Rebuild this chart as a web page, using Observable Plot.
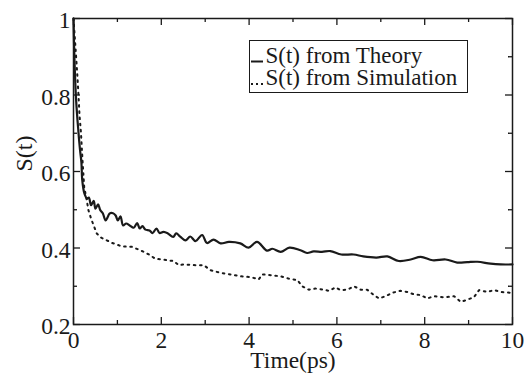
<!DOCTYPE html>
<html>
<head>
<meta charset="utf-8">
<script src="https://cdn.jsdelivr.net/npm/d3@7"></script>
<script src="https://cdn.jsdelivr.net/npm/@observablehq/plot@0.6"></script>
<style>
  html, body { margin: 0; padding: 0; background: #fff; }
  #chart { position: relative; width: 525px; height: 373px; }
</style>
</head>
<body>
<div id="chart"></div>
<script>
// ---- data ----
const theory = [
  [0, 1], [0.02, 0.90], [0.06, 0.786], [0.11, 0.707], [0.15, 0.655], [0.18, 0.624], [0.20, 0.577],
  [0.25, 0.542], [0.31, 0.529], [0.35, 0.532], [0.40, 0.512], [0.46, 0.523], [0.50, 0.503],
  [0.56, 0.514], [0.61, 0.499], [0.67, 0.49], [0.73, 0.472], [0.78, 0.481], [0.82, 0.49],
  [0.90, 0.491], [0.96, 0.485], [1.01, 0.472], [1.07, 0.483], [1.13, 0.459], [1.20, 0.464],
  [1.28, 0.459], [1.37, 0.453], [1.45, 0.465], [1.51, 0.451], [1.57, 0.457], [1.64, 0.448],
  [1.73, 0.446], [1.80, 0.439], [1.89, 0.451], [1.96, 0.439], [2.05, 0.442], [2.15, 0.438],
  [2.27, 0.429], [2.34, 0.438], [2.43, 0.43], [2.55, 0.42], [2.66, 0.43], [2.78, 0.418],
  [2.93, 0.434], [3.04, 0.413], [3.19, 0.422], [3.35, 0.412], [3.54, 0.416], [3.80, 0.412],
  [3.99, 0.401], [4.18, 0.416], [4.41, 0.393], [4.53, 0.398], [4.72, 0.39], [4.92, 0.401],
  [5.17, 0.394], [5.32, 0.387], [5.47, 0.391], [5.66, 0.39], [5.85, 0.392], [6.10, 0.383],
  [6.38, 0.383], [6.60, 0.378], [6.90, 0.375], [7.15, 0.378], [7.41, 0.366], [7.68, 0.37],
  [7.91, 0.377], [8.18, 0.368], [8.48, 0.37], [8.74, 0.362], [8.97, 0.363], [9.20, 0.364],
  [9.50, 0.359], [9.73, 0.357], [10, 0.357]
];
const simulation = [
  [0, 1], [0.06, 0.899], [0.09, 0.847], [0.114, 0.799], [0.137, 0.747], [0.169, 0.703],
  [0.19, 0.66], [0.21, 0.62], [0.244, 0.559], [0.29, 0.533], [0.34, 0.499], [0.40, 0.477],
  [0.46, 0.459], [0.53, 0.438], [0.63, 0.427], [0.76, 0.42], [0.88, 0.413], [0.99, 0.409],
  [1.10, 0.404], [1.33, 0.403], [1.48, 0.396], [1.60, 0.39], [1.75, 0.381], [1.86, 0.372],
  [2.02, 0.37], [2.13, 0.368], [2.28, 0.366], [2.40, 0.355], [2.51, 0.357], [2.78, 0.355],
  [2.97, 0.355], [3.12, 0.342], [3.35, 0.335], [3.57, 0.331], [3.80, 0.326], [4.03, 0.324],
  [4.22, 0.318], [4.30, 0.331], [4.49, 0.329], [4.72, 0.326], [4.90, 0.32], [5.10, 0.316],
  [5.21, 0.30], [5.36, 0.291], [5.51, 0.294], [5.70, 0.291], [5.82, 0.288], [5.97, 0.297],
  [6.08, 0.29], [6.24, 0.291], [6.39, 0.30], [6.54, 0.291], [6.69, 0.291], [6.84, 0.277],
  [6.96, 0.268], [7.11, 0.274], [7.26, 0.283], [7.45, 0.288], [7.60, 0.285], [7.75, 0.279],
  [7.91, 0.277], [8.06, 0.268], [8.21, 0.274], [8.44, 0.271], [8.67, 0.274], [8.82, 0.259],
  [8.97, 0.265], [9.12, 0.271], [9.24, 0.29], [9.43, 0.285], [9.58, 0.29], [9.73, 0.285],
  [9.96, 0.283], [10, 0.282]
];
const xMajor = [0, 2, 4, 6, 8, 10];
const xMinor = [1, 3, 5, 7, 9];
const yMajor = [0.2, 0.4, 0.6, 0.8, 1];
const yMinor = [0.3, 0.5, 0.7, 0.9];
const seriesNames = ["S(t) from Theory", "S(t) from Simulation"];
const xLabel = "Time(ps)";
const yLabel = "S(t)";

// ---- layout ----
const W = 525, H = 373;
const mL = 73, mR = 13, mT = 18, mB = 49;
const pw = W - mL - mR, ph = H - mT - mB;
const majLen = 7, minLen = 4;
const font = "Liberation Serif";
const ink = "#1a1a1a";

const fmt = d => String(d);

const chart = Plot.plot({
  width: W, height: H,
  marginLeft: mL, marginRight: mR, marginTop: mT, marginBottom: mB,
  style: { fontFamily: font, fontSize: "24px", color: ink, background: "#fff", overflow: "visible" },
  x: { domain: [0, 10] },
  y: { domain: [0.2, 1] },
  marks: [
    // data
    Plot.line(simulation, { x: d => d[0], y: d => d[1], stroke: ink, strokeWidth: 2, strokeDasharray: "1.6,4.6", curve: "linear" }),
    Plot.line(theory, { x: d => d[0], y: d => d[1], stroke: ink, strokeWidth: 2.2, curve: "catmull-rom" }),
    // inward ticks
    Plot.tickX(xMajor, { x: d => d, insetTop: ph - majLen, stroke: ink, strokeWidth: 1.3 }),
    Plot.tickX(xMinor, { x: d => d, insetTop: ph - minLen, stroke: ink, strokeWidth: 1.3 }),
    Plot.tickX(xMajor, { x: d => d, insetBottom: ph - majLen, stroke: ink, strokeWidth: 1.3 }),
    Plot.tickX(xMinor, { x: d => d, insetBottom: ph - minLen, stroke: ink, strokeWidth: 1.3 }),
    Plot.tickY(yMajor, { y: d => d, insetRight: pw - majLen, stroke: ink, strokeWidth: 1.3 }),
    Plot.tickY(yMinor, { y: d => d, insetRight: pw - minLen, stroke: ink, strokeWidth: 1.3 }),
    Plot.tickY(yMajor, { y: d => d, insetLeft: pw - majLen, stroke: ink, strokeWidth: 1.3 }),
    Plot.tickY(yMinor, { y: d => d, insetLeft: pw - minLen, stroke: ink, strokeWidth: 1.3 }),
    // tick labels
    Plot.axisX({ ticks: xMajor, tickSize: 0, tickPadding: 7, tickFormat: fmt, label: null, fontSize: 23.5, fontFamily: font }),
    Plot.axisY({ ticks: yMajor, tickSize: 0, tickPadding: 3, tickFormat: fmt, label: null, fontSize: 23.5, fontFamily: font, dy: 2 }),
    // axis titles
    Plot.text([xLabel], { frameAnchor: "bottom", text: d => d, lineAnchor: "middle", dy: 36, fontSize: 23.5, fontFamily: font }),
    Plot.text([yLabel], { frameAnchor: "left", text: d => d, rotate: -90, dx: -49, fontSize: 24, fontFamily: font }),
    Plot.frame({ stroke: ink, strokeWidth: 1.5 })
  ]
});
document.getElementById("chart").appendChild(chart);

// ---- legend (inside the plot frame, upper right) ----
const svg = d3.select(chart);
const lg = svg.append("g").attr("font-family", font).attr("font-size", 23)
  .attr("fill", ink).attr("text-anchor", "start");
lg.append("rect").attr("x", 249.5).attr("y", 40.5).attr("width", 218).attr("height", 52)
  .attr("fill", "#fff").attr("stroke", ink).attr("stroke-width", 1);
const rows = [
  { name: seriesNames[0], dash: null, y: 62.5 },
  { name: seriesNames[1], dash: "2,3", y: 85 }
];
rows.forEach(r => {
  lg.append("line").attr("x1", 251).attr("x2", 263).attr("y1", r.y - 1).attr("y2", r.y - 1)
    .attr("stroke", ink).attr("stroke-width", 2).attr("stroke-dasharray", r.dash);
  lg.append("text").attr("x", 265.5).attr("y", r.y).attr("text-anchor", "start").text(r.name);
});
</script>
</body>
</html>
